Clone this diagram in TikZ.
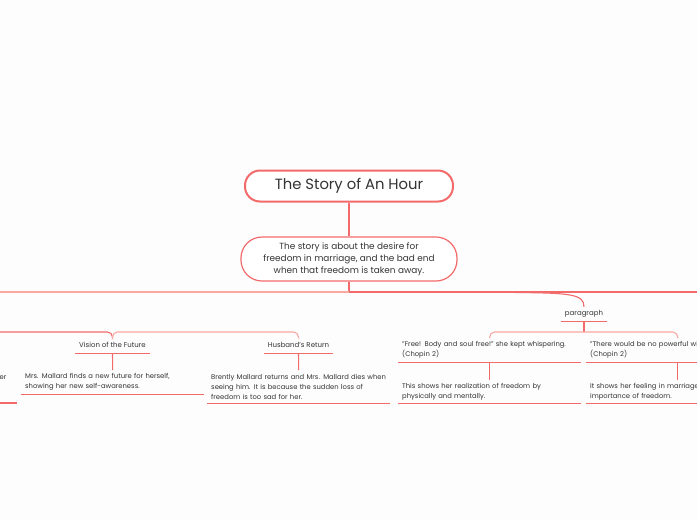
\documentclass[tikz,border=0pt]{standalone}
\usepackage{fontspec}
\setmainfont{Poppins}
\definecolor{linec}{HTML}{F36A6A}
\definecolor{lightc}{HTML}{FAA8A2}
\definecolor{textc}{HTML}{333333}
\definecolor{bgc}{HTML}{FDFDFD}
\begin{document}
\begin{tikzpicture}[x=1pt,y=-1pt,
  lnk/.style={draw=linec, line width=1.1pt},
  lnkl/.style={draw=lightc, line width=1.1pt},
  txt/.style={font=\fontsize{6.8}{10}\selectfont, text=textc, inner sep=0pt},
  headbox/.style={txt, font=\fontsize{7}{10}\selectfont, minimum height=16pt, align=center},
  subbox/.style={txt, anchor=north west, text width=175pt, inner xsep=4pt, inner ysep=0pt, align=left}
]
\useasboundingbox (0,0) rectangle (697,520);
\clip (0,0) rectangle (697,520);
\fill[bgc] (0,0) rectangle (697,520);

% central nodes
\node[draw=linec, line width=2pt, fill=white, rounded corners=15pt, minimum width=208pt, minimum height=31pt,
      font=\fontsize{14.8}{16}\selectfont, text=textc] (title) at (349,186) {The Story of An Hour};
\node[draw=linec, line width=1.2pt, fill=white, rounded corners=21pt, minimum width=216pt, minimum height=44pt,
      font=\fontsize{8.9}{12}\selectfont, text=textc, align=center, inner sep=0pt] (summ) at (349,259)
      {The story is about the desire for\\freedom in marriage, and the bad end\\when that freedom is taken away.};
\draw[lnk] (title) -- (summ);

% main bar
\coordinate (j) at (349,292);
\coordinate (jl) at (-5,292);
\coordinate (jr) at (702,292);
\coordinate (jc) at (515,292.5);
\draw[lnk] (summ.south) -- (j);
\draw[lnkl] (jl) -- (j);
\draw[lnk] (j) -- (jr);

% paragraph branch
\node[headbox, minimum width=46pt, minimum height=14pt] (para) at (584,314) {paragraph};
\draw[lnk] (jc) .. controls (570,293) and (584,294) .. (para.north);
\draw[lnk] (para.south west) -- (para.south east);
\coordinate (pbar) at (584,332);
\draw[lnk] (para.south) -- (pbar);

\node[subbox, minimum height=24pt] (free) at (398,338)
  {"Free!  Body and soul free!" she kept whispering.\\(Chopin 2)};
\node[subbox, minimum height=23pt] (shows) at (398,380)
  {This shows her realization of freedom by\\physically and mentally.};
\node[subbox, minimum height=24pt] (thr) at (586,338)
  {"There would be no powerful will bending hers\\(Chopin 2)};
\node[subbox, minimum height=23pt] (feel) at (586,380)
  {It shows her feeling in marriage and the\\importance of freedom.};
\draw[lnkl, rounded corners=5pt] (free.north) |- (pbar) -| (thr.north);
\foreach \n in {free,shows,thr,feel} \draw[lnk] (\n.south west) -- (\n.south east);
\draw[lnk] (free.south) -- (shows.north);
\draw[lnk] (thr.south) -- (feel.north);

% left branch
\coordinate (lbl) at (-5,332);
\coordinate (lb) at (200,332);
\node[headbox, minimum width=75pt] (vis) at (112.5,345) {Vision of the Future};
\node[headbox, minimum width=69pt] (hus) at (298.5,345) {Husband's Return};
\draw[lnk, rounded corners=5pt] (lbl) -| (vis.north);
\draw[lnkl, rounded corners=5pt] (vis.north) |- (lb) -| (hus.north);
\draw[lnk] (vis.south west) -- (vis.south east);
\draw[lnk] (hus.south west) -- (hus.south east);

\node[subbox, minimum height=24pt] (mrs) at (21,370)
  {Mrs. Mallard finds a new future for herself,\\showing her new self-awareness.};
\node[subbox, minimum height=33pt] (bren) at (207,370)
  {Brently Mallard returns and Mrs. Mallard dies when\\seeing him.  It is because the sudden loss of\\freedom is too sad for her.};
\draw[lnk] (vis.south) -- (mrs.north);
\draw[lnk] (hus.south) -- (bren.north);
\draw[lnk] (mrs.south west) -- (mrs.south east);
\draw[lnk] (bren.south west) -- (bren.south east);

% partly visible node at the left edge
\node[txt, anchor=base east] (lft) at (6.5,379) {er};
\coordinate (lfl) at (-5,403);
\coordinate (lfr) at (17,403);
\draw[lnk] (lfl) -- (lfr);
\end{tikzpicture}
\end{document}
